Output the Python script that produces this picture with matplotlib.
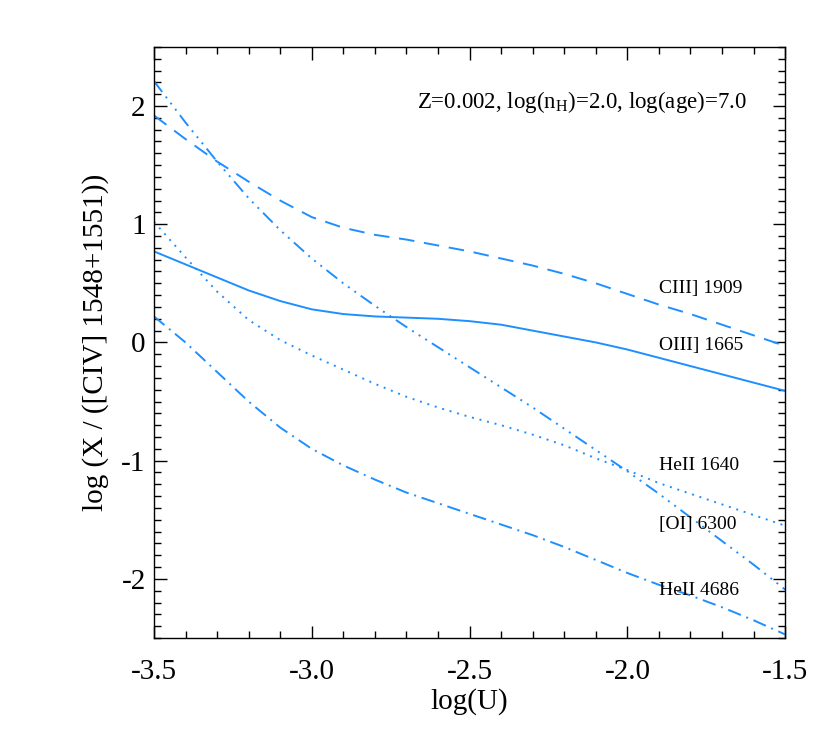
import numpy as np
import matplotlib
matplotlib.use('Agg')
import matplotlib.pyplot as plt
from matplotlib.ticker import MultipleLocator

plt.rcParams['font.family'] = ['Liberation Serif', 'DejaVu Serif']
plt.rcParams['mathtext.fontset'] = 'custom'
plt.rcParams['mathtext.rm'] = 'Liberation Serif'

logU = [-3.5, -3.4, -3.3, -3.2, -3.1, -3.0, -2.9, -2.8, -2.7, -2.6, -2.5,
        -2.4, -2.3, -2.2, -2.1, -2.0, -1.9, -1.8, -1.7, -1.6, -1.5]

ciii_1909 = [1.92, 1.72, 1.53, 1.36, 1.20, 1.06, 0.97, 0.91, 0.87, 0.82, 0.77,
             0.71, 0.65, 0.58, 0.50, 0.41, 0.32, 0.24, 0.15, 0.06, -0.03]
oiii_1665 = [0.77, 0.66, 0.55, 0.44, 0.35, 0.28, 0.24, 0.22, 0.21, 0.20, 0.18,
             0.15, 0.10, 0.05, 0.0, -0.06, -0.13, -0.20, -0.27, -0.34, -0.41]
heii_1640 = [2.21, 1.86, 1.53, 1.22, 0.95, 0.71, 0.50, 0.31, 0.13, -0.04, -0.21,
             -0.38, -0.55, -0.73, -0.91, -1.09, -1.28, -1.48, -1.68, -1.88, -2.09]
oi_6300 = [1.02, 0.72, 0.43, 0.19, 0.02, -0.11, -0.23, -0.35, -0.46, -0.55, -0.63,
           -0.70, -0.78, -0.87, -0.98, -1.08, -1.19, -1.28, -1.37, -1.46, -1.55]
heii_4686 = [0.22, 0.0, -0.25, -0.50, -0.72, -0.90, -1.04, -1.16, -1.27, -1.36, -1.45,
             -1.54, -1.63, -1.73, -1.84, -1.95, -2.05, -2.14, -2.24, -2.35, -2.47]

line_names = ['CIII] 1909', 'OIII] 1665', 'HeII 1640', '[OI] 6300', 'HeII 4686']
label_y = [0.46, -0.03, -1.04, -1.54, -2.10]

col = '#1E8FFF'

fig = plt.figure(figsize=(8.3, 7.38), dpi=100)
ax = fig.add_axes([0.1855, 0.1355, 0.7605, 0.801])

lw = 1.4
ax.plot(logU, ciii_1909, color=col, lw=lw, dashes=(8, 5))
ax.plot(logU, oiii_1665, color=col, lw=lw, linestyle='-')
ax.plot(logU, heii_1640, color=col, lw=lw, dashes=(7, 3, 1, 3, 1, 3, 1, 3))
ax.plot(logU, oi_6300, color=col, lw=lw, dashes=(1, 3))
ax.plot(logU, heii_4686, color=col, lw=lw, dashes=(7, 3, 1, 3))

for name, yy in zip(line_names, label_y):
    ax.text(-1.9, yy, name, fontsize=14, va='center', ha='left')

ax.text(-1.62, 2.03, r'Z=0.002, log(n$_\mathregular{H}$)=2.0, log(age)=7.0',
        fontsize=16.5, ha='right', va='center')

ax.set_xlim(-3.5, -1.5)
ax.set_ylim(-2.5, 2.5)
ax.xaxis.set_major_locator(MultipleLocator(0.5))
ax.xaxis.set_minor_locator(MultipleLocator(0.1))
ax.yaxis.set_major_locator(MultipleLocator(1))
ax.yaxis.set_minor_locator(MultipleLocator(0.1))
ax.set_xticks([-3.5, -3.0, -2.5, -2.0, -1.5])
ax.set_xticklabels(['-3.5', '-3.0', '-2.5', '-2.0', '-1.5'])
ax.set_yticks([-2, -1, 0, 1, 2])
ax.set_yticklabels(['-2', '-1', '0', '1', '2'])
ax.tick_params(which='both', direction='in', top=True, right=True, labelsize=21, width=1)
ax.tick_params(which='major', length=9)
ax.tick_params(axis='x', which='major', pad=15)
ax.tick_params(axis='y', which='major', pad=6)
ax.tick_params(which='minor', length=5)
for s in ax.spines.values():
    s.set_linewidth(1)

ax.set_xlabel('log(U)', fontsize=21, labelpad=2)
ax.set_ylabel('log (X / ([CIV] 1548+1551))', fontsize=21, labelpad=9)

fig.savefig('out.png', dpi=100)
